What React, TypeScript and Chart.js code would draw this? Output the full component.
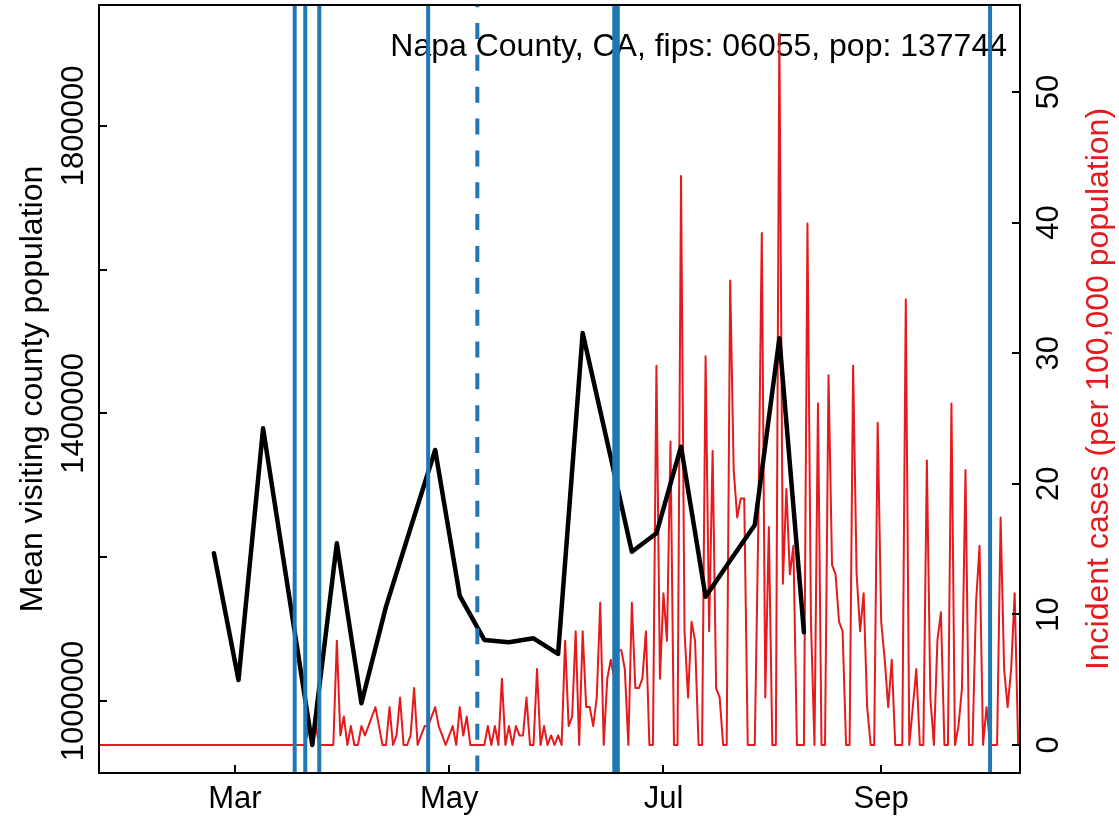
import React, { useEffect, useRef } from "react";
import { Chart, registerables } from "chart.js";

Chart.register(...registerables);

// ---------- text ----------
const TITLE = "Napa County, CA, fips: 06055, pop: 137744";
const LEFT_AXIS_TITLE = "Mean visiting county population";
const RIGHT_AXIS_TITLE = "Incident cases (per 100,000 population)";

// ---------- axes (x = days since 1 March 2020) ----------
const X_TICK_DAYS = [0, 61, 122, 184];
const X_TICK_LABELS = ["Mar", "May", "Jul", "Sep"];
const LEFT_TICK_VALUES = [1000000, 1200000, 1400000, 1600000, 1800000];
const LEFT_TICK_LABELS = ["1000000", "", "1400000", "", "1800000"];
const RIGHT_TICK_VALUES = [0, 10, 20, 30, 40, 50];
const RIGHT_TICK_LABELS = ["0", "10", "20", "30", "40", "50"];

const X_MIN = -38.72;
const X_MAX = 223.52;
const LEFT_MIN = 899800;
const LEFT_MAX = 1968300;
const RIGHT_MIN = -2.144;
const RIGHT_MAX = 56.66;

// ---------- weekly mean visiting population ----------
const VISIT_DAYS = [
  -6, 1, 8, 15, 22, 29, 36, 43, 50, 57, 64, 71, 78, 85, 92, 99, 106, 113, 120,
  127, 134, 141, 148, 155, 162,
];
const VISIT_VALUES = [
  1205500, 1029200, 1379400, 1159000, 938800, 1219400, 996800, 1131200,
  1240700, 1349200, 1146100, 1084900, 1081700, 1087200, 1065400, 1512000,
  1360300, 1207700, 1233300, 1353800, 1145100, 1195500, 1244900, 1504600,
  1095600,
];

// ---------- daily incident cases per 100,000 (first value = day -39, 22 Jan) ----------
const CASE_FIRST_DAY = -39;
const CASE_VALUES = [
  // d-39 .. d20
  0, 0, 0, 0, 0, 0, 0, 0, 0, 0,
  0, 0, 0, 0, 0, 0, 0, 0, 0, 0,
  0, 0, 0, 0, 0, 0, 0, 0, 0, 0,
  0, 0, 0, 0, 0, 0, 0, 0, 0, 0,
  0, 0, 0, 0, 0, 0, 0, 0, 0, 0,
  0, 0, 0, 0, 0, 0, 0, 0, 0, 0,
  // d21 .. d30
  1.45, 0.73, 1.45, 0, 0, 0, 0, 0, 7.99, 0.73,
  // d31 .. d40
  2.18, 0, 1.45, 0, 0, 1.45, 0.73, 1.45, 2.18, 2.9,
  // d41 .. d50
  1.45, 0, 0, 2.9, 0, 0.73, 3.63, 0, 0, 0.73,
  // d51 .. d60
  4.36, 0, 0.73, 1.45, 1.45, 2.18, 2.9, 1.45, 0.73, 0,
  // d61 .. d70
  0.73, 1.45, 0, 2.9, 0.73, 2.18, 0, 0, 0, 0,
  // d71 .. d80
  0, 1.45, 0, 1.45, 0, 5.08, 0, 1.45, 0, 1.45,
  // d81 .. d90
  0.73, 0.73, 3.63, 0, 0, 5.81, 0, 1.45, 0, 0.73,
  // d91 .. d100
  0, 0.73, 0, 7.99, 1.45, 2.18, 8.71, 0, 8.71, 2.9,
  // d101 .. d110
  2.9, 1.45, 3.63, 10.89, 0, 5.08, 6.53, 5.08, 7.26, 7.26,
  // d111 .. d120
  5.81, 0, 10.89, 4.36, 4.36, 5.08, 8.71, 0, 0, 29.04,
  // d121 .. d130
  5.08, 11.62, 7.99, 23.23, 0, 0, 43.56, 8.71, 3.63, 9.44,
  // d131 .. d140
  7.99, 0, 0, 29.77, 8.71, 22.51, 4.36, 3.63, 0, 0,
  // d141 .. d150
  35.57, 21.05, 17.42, 18.88, 18.88, 0, 0, 0, 16.7, 39.2,
  // d151 .. d160
  3.63, 16.7, 0, 0, 54.45, 12.34, 19.6, 13.07, 15.25, 0,
  // d161 .. d170
  0, 0, 39.93, 9.44, 0, 26.14, 0, 0, 28.31, 13.79,
  // d171 .. d180
  13.07, 9.44, 8.71, 0, 0, 29.04, 13.07, 8.71, 11.62, 2.9,
  // d181 .. d190
  0, 0, 24.68, 9.44, 6.53, 2.9, 6.53, 0, 0, 0,
  // d191 .. d200
  34.12, 0, 2.9, 5.81, 0, 0, 21.78, 3.63, 0, 7.99,
  // d201 .. d210
  10.16, 0, 0, 26.14, 0, 1.45, 4.36, 21.05, 0, 0,
  // d211 .. d220
  10.89, 15.25, 0, 2.9, 0, 0, 0, 17.42, 5.81, 2.9,
  // d221 .. d223
  5.81, 11.62, 0,
];

// ---------- policy dates (vertical lines) ----------
const POLICY_SOLID_DAYS = [17, 20, 24, 55, 108, 109, 215];
const POLICY_DASHED_DAYS = [69];

const BLUE = "#1f78b4";
const RED = "#e41a1c";
const FONT = '"Liberation Sans", Arial, Helvetica, sans-serif';

const decorPlugin = {
  id: "decor",
  beforeDatasetsDraw(chart: any) {
    const { ctx } = chart;
    ctx.save();
    ctx.fillStyle = "#000";
    ctx.font = `32px ${FONT}`;
    ctx.textAlign = "right";
    ctx.textBaseline = "alphabetic";
    ctx.fillText(TITLE, 1007, 56);
    ctx.restore();
  },
  afterDatasetsDraw(chart: any) {
    const { ctx, chartArea: a, scales } = chart;
    const xs = scales.x;
    ctx.save();
    ctx.beginPath();
    ctx.rect(a.left, a.top, a.right - a.left, a.bottom - a.top);
    ctx.clip();
    ctx.strokeStyle = BLUE;
    ctx.lineWidth = 4;
    ctx.lineCap = "butt";
    for (const d of POLICY_SOLID_DAYS) {
      const px = xs.getPixelForValue(d);
      ctx.beginPath();
      ctx.moveTo(px, a.top);
      ctx.lineTo(px, a.bottom);
      ctx.stroke();
    }
    ctx.setLineDash([16, 15.85]);
    for (const d of POLICY_DASHED_DAYS) {
      const px = xs.getPixelForValue(d);
      ctx.beginPath();
      ctx.moveTo(px, a.top - 13.85);
      ctx.lineTo(px, a.bottom);
      ctx.stroke();
    }
    ctx.restore();
  },
  afterDraw(chart: any) {
    const { ctx, chartArea: a, scales } = chart;
    const xs = scales.x;
    const yl = scales.yL;
    const yr = scales.yR;
    ctx.save();
    ctx.strokeStyle = "#000";
    ctx.lineWidth = 2;
    ctx.strokeRect(a.left, a.top, a.right - a.left, a.bottom - a.top);
    const TL = 8;
    ctx.beginPath();
    X_TICK_DAYS.forEach((d) => {
      const px = Math.round(xs.getPixelForValue(d));
      ctx.moveTo(px, a.bottom);
      ctx.lineTo(px, a.bottom - TL);
    });
    LEFT_TICK_VALUES.forEach((v) => {
      const py = Math.round(yl.getPixelForValue(v));
      ctx.moveTo(a.left, py);
      ctx.lineTo(a.left + TL, py);
    });
    RIGHT_TICK_VALUES.forEach((v) => {
      const py = Math.round(yr.getPixelForValue(v));
      ctx.moveTo(a.right, py);
      ctx.lineTo(a.right - TL, py);
    });
    ctx.stroke();

    ctx.fillStyle = "#000";
    ctx.font = `31px ${FONT}`;
    ctx.textAlign = "center";
    ctx.textBaseline = "alphabetic";
    X_TICK_DAYS.forEach((d, i) => {
      ctx.fillText(X_TICK_LABELS[i], xs.getPixelForValue(d), 808);
    });
    LEFT_TICK_VALUES.forEach((v, i) => {
      if (!LEFT_TICK_LABELS[i]) return;
      ctx.save();
      ctx.translate(83, yl.getPixelForValue(v));
      ctx.rotate(-Math.PI / 2);
      ctx.fillText(LEFT_TICK_LABELS[i], 0, 0);
      ctx.restore();
    });
    RIGHT_TICK_VALUES.forEach((v, i) => {
      ctx.save();
      ctx.translate(1058, yr.getPixelForValue(v));
      ctx.rotate(-Math.PI / 2);
      ctx.fillText(RIGHT_TICK_LABELS[i], 0, 0);
      ctx.restore();
    });
    const cy = (a.top + a.bottom) / 2;
    ctx.font = `32px ${FONT}`;
    ctx.save();
    ctx.translate(42, cy);
    ctx.rotate(-Math.PI / 2);
    ctx.fillText(LEFT_AXIS_TITLE, 0, 0);
    ctx.restore();
    ctx.save();
    ctx.fillStyle = RED;
    ctx.translate(1108, cy);
    ctx.rotate(-Math.PI / 2);
    ctx.fillText(RIGHT_AXIS_TITLE, 0, 0);
    ctx.restore();
    ctx.restore();
  },
};

export default function App() {
  const canvasRef = useRef<HTMLCanvasElement | null>(null);

  useEffect(() => {
    const canvas = canvasRef.current;
    if (!canvas) return;
    const visitData = VISIT_DAYS.map((d, i) => ({ x: d, y: VISIT_VALUES[i] }));
    const caseData = CASE_VALUES.map((v, i) => ({ x: CASE_FIRST_DAY + i, y: v }));
    const chart = new Chart(canvas, {
      type: "line",
      data: {
        datasets: [
          {
            label: "Mean visiting county population",
            data: visitData,
            yAxisID: "yL",
            borderColor: "#000",
            borderWidth: 4.5,
            pointRadius: 0,
            tension: 0,
            borderJoinStyle: "round",
            borderCapStyle: "round",
            fill: false,
          },
          {
            label: "Incident cases",
            data: caseData,
            yAxisID: "yR",
            borderColor: RED,
            borderWidth: 2,
            pointRadius: 0,
            tension: 0,
            borderJoinStyle: "round",
            borderCapStyle: "round",
            fill: false,
          },
        ],
      },
      options: {
        responsive: false,
        animation: false,
        devicePixelRatio: 1,
        layout: { padding: { left: 99, right: 99, top: 5, bottom: 44 } },
        plugins: { legend: { display: false }, tooltip: { enabled: false } },
        scales: {
          x: { type: "linear", display: false, min: X_MIN, max: X_MAX },
          yL: { type: "linear", display: false, position: "left", min: LEFT_MIN, max: LEFT_MAX },
          yR: { type: "linear", display: false, position: "right", min: RIGHT_MIN, max: RIGHT_MAX },
        },
      },
      plugins: [decorPlugin],
    });
    return () => chart.destroy();
  }, []);

  return (
    <div style={{ position: "fixed", left: 0, top: 0, width: 1119, height: 817, background: "#fff" }}>
      <canvas ref={canvasRef} width={1119} height={817} style={{ display: "block" }} />
    </div>
  );
}
